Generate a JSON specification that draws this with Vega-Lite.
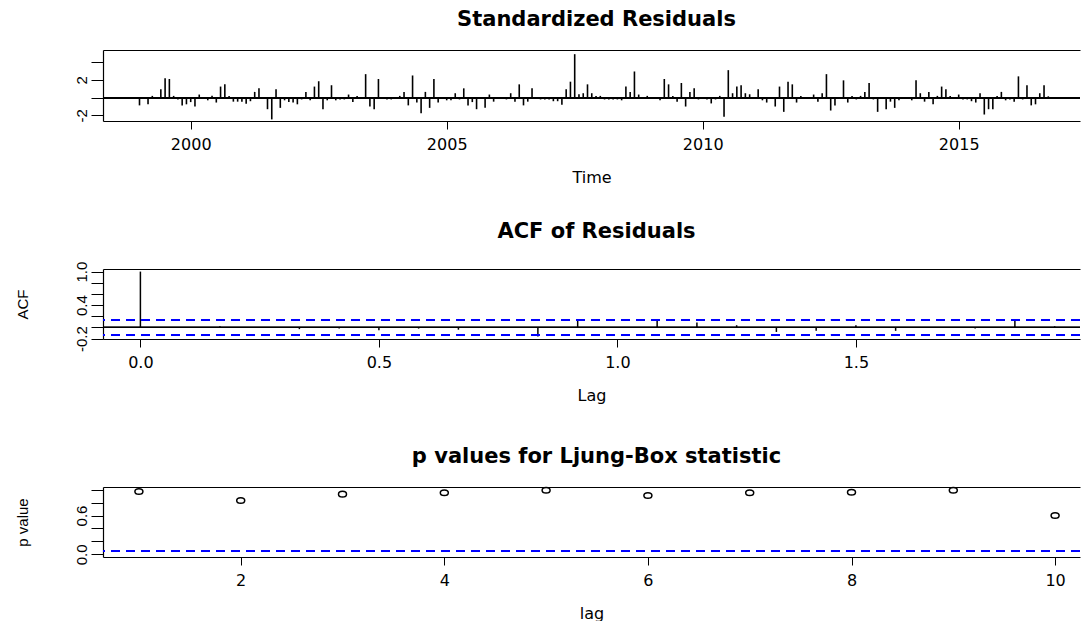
{
  "$schema": "https://vega.github.io/schema/vega-lite/v6.json",
  "padding": {"left": 15, "top": 9, "right": 0, "bottom": 0},
  "bounds": "flush",
  "spacing": 148,
  "config": {
    "font": "Liberation Sans",
    "view": {"stroke": null},
    "axis": {"grid": false, "domainColor": "black", "domainWidth": 1.2, "tickColor": "black", "tickWidth": 1, "labelColor": "black", "titleColor": "black", "labelFont": "Liberation Sans", "titleFont": "Liberation Sans", "labelFontSize": 15, "titleFontSize": 15, "titleFontWeight": "normal", "labelOverlap": false, "tickCount": 20},
    "axisX": {"tickSize": 8, "labelPadding": 7, "titlePadding": 17, "labelFlush": false, "labelFont": "DejaVu Sans", "titleFont": "DejaVu Sans", "labelFontSize": 16, "titleFontSize": 16},
    "axisY": {"tickSize": 12, "labelPadding": 2, "labelAngle": 270, "labelAlign": "center", "labelBaseline": "bottom", "titlePadding": 43.5},
    "title": {"fontSize": 21, "fontWeight": "bold", "color": "black", "font": "DejaVu Sans", "anchor": "middle"}
  },
  "datasets": {
    "resid": [
      {"t":1999.0,"r":-0.87},{"t":1999.0833,"r":0},{"t":1999.1667,"r":-0.75},{"t":1999.25,"r":0.2},{"t":1999.3333,"r":0},{"t":1999.4167,"r":0.95},{"t":1999.5,"r":2.2},{"t":1999.5833,"r":2.1},{"t":1999.6667,"r":0.2},{"t":1999.75,"r":-0.2},{"t":1999.8333,"r":-0.87},{"t":1999.9167,"r":-0.75},
      {"t":2000.0,"r":-0.5},{"t":2000.0833,"r":-1.0},{"t":2000.1667,"r":0.35},{"t":2000.25,"r":0},{"t":2000.3333,"r":-0.3},{"t":2000.4167,"r":0.22},{"t":2000.5,"r":-0.55},{"t":2000.5833,"r":1.25},{"t":2000.6667,"r":1.5},{"t":2000.75,"r":0.2},{"t":2000.8333,"r":-0.45},{"t":2000.9167,"r":-0.45},
      {"t":2001.0,"r":-0.45},{"t":2001.0833,"r":-0.7},{"t":2001.1667,"r":-0.4},{"t":2001.25,"r":0.65},{"t":2001.3333,"r":1.05},{"t":2001.4167,"r":0},{"t":2001.5,"r":-1.3},{"t":2001.5833,"r":-2.45},{"t":2001.6667,"r":0.95},{"t":2001.75,"r":-1.15},{"t":2001.8333,"r":-0.3},{"t":2001.9167,"r":-0.5},
      {"t":2002.0,"r":-0.55},{"t":2002.0833,"r":-0.75},{"t":2002.1667,"r":-0.2},{"t":2002.25,"r":0.65},{"t":2002.3333,"r":-0.3},{"t":2002.4167,"r":1.25},{"t":2002.5,"r":1.85},{"t":2002.5833,"r":-1.3},{"t":2002.6667,"r":-0.3},{"t":2002.75,"r":1.4},{"t":2002.8333,"r":-0.3},{"t":2002.9167,"r":-0.2},
      {"t":2003.0,"r":-0.2},{"t":2003.0833,"r":0.35},{"t":2003.1667,"r":-0.5},{"t":2003.25,"r":0.2},{"t":2003.3333,"r":0},{"t":2003.4167,"r":2.65},{"t":2003.5,"r":-1.0},{"t":2003.5833,"r":-1.3},{"t":2003.6667,"r":2.1},{"t":2003.75,"r":0},{"t":2003.8333,"r":-0.2},{"t":2003.9167,"r":-0.2},
      {"t":2004.0,"r":0},{"t":2004.0833,"r":0.2},{"t":2004.1667,"r":0.65},{"t":2004.25,"r":-0.87},{"t":2004.3333,"r":2.5},{"t":2004.4167,"r":-0.55},{"t":2004.5,"r":-1.75},{"t":2004.5833,"r":0.65},{"t":2004.6667,"r":-1.15},{"t":2004.75,"r":2.1},{"t":2004.8333,"r":-0.55},{"t":2004.9167,"r":0},
      {"t":2005.0,"r":-0.3},{"t":2005.0833,"r":-0.3},{"t":2005.1667,"r":0.5},{"t":2005.25,"r":-0.2},{"t":2005.3333,"r":1.05},{"t":2005.4167,"r":-0.87},{"t":2005.5,"r":-0.5},{"t":2005.5833,"r":-1.3},{"t":2005.6667,"r":0},{"t":2005.75,"r":-1.15},{"t":2005.8333,"r":0.35},{"t":2005.9167,"r":-0.45},
      {"t":2006.0,"r":-0.1},{"t":2006.0833,"r":0},{"t":2006.1667,"r":-0.2},{"t":2006.25,"r":0.5},{"t":2006.3333,"r":-0.45},{"t":2006.4167,"r":1.5},{"t":2006.5,"r":-0.87},{"t":2006.5833,"r":-0.45},{"t":2006.6667,"r":1.05},{"t":2006.75,"r":0},{"t":2006.8333,"r":-0.2},{"t":2006.9167,"r":-0.2},
      {"t":2007.0,"r":-0.2},{"t":2007.0833,"r":-0.4},{"t":2007.1667,"r":-0.4},{"t":2007.25,"r":-0.8},{"t":2007.3333,"r":0.95},{"t":2007.4167,"r":1.8},{"t":2007.5,"r":4.9},{"t":2007.5833,"r":0.38},{"t":2007.6667,"r":0.5},{"t":2007.75,"r":1.5},{"t":2007.8333,"r":0.5},{"t":2007.9167,"r":0.2},
      {"t":2008.0,"r":0.2},{"t":2008.0833,"r":-0.2},{"t":2008.1667,"r":-0.2},{"t":2008.25,"r":-0.2},{"t":2008.3333,"r":-0.2},{"t":2008.4167,"r":-0.3},{"t":2008.5,"r":1.25},{"t":2008.5833,"r":0.65},{"t":2008.6667,"r":2.95},{"t":2008.75,"r":0.35},{"t":2008.8333,"r":0},{"t":2008.9167,"r":0.2},
      {"t":2009.0,"r":0},{"t":2009.0833,"r":0},{"t":2009.1667,"r":-0.3},{"t":2009.25,"r":2.1},{"t":2009.3333,"r":1.5},{"t":2009.4167,"r":0.2},{"t":2009.5,"r":-0.45},{"t":2009.5833,"r":1.65},{"t":2009.6667,"r":-1.0},{"t":2009.75,"r":0.65},{"t":2009.8333,"r":1.05},{"t":2009.9167,"r":-0.2},
      {"t":2010.0,"r":0},{"t":2010.0833,"r":-0.2},{"t":2010.1667,"r":-0.65},{"t":2010.25,"r":-0.2},{"t":2010.3333,"r":0.2},{"t":2010.4167,"r":-2.15},{"t":2010.5,"r":3.1},{"t":2010.5833,"r":0.5},{"t":2010.6667,"r":1.25},{"t":2010.75,"r":1.4},{"t":2010.8333,"r":0.5},{"t":2010.9167,"r":0.38},
      {"t":2011.0,"r":0},{"t":2011.0833,"r":0.95},{"t":2011.1667,"r":-0.3},{"t":2011.25,"r":-0.55},{"t":2011.3333,"r":0},{"t":2011.4167,"r":-1.0},{"t":2011.5,"r":1.25},{"t":2011.5833,"r":-1.6},{"t":2011.6667,"r":1.8},{"t":2011.75,"r":1.5},{"t":2011.8333,"r":-0.55},{"t":2011.9167,"r":0.2},
      {"t":2012.0,"r":0},{"t":2012.0833,"r":0},{"t":2012.1667,"r":0.35},{"t":2012.25,"r":-0.45},{"t":2012.3333,"r":0.5},{"t":2012.4167,"r":2.65},{"t":2012.5,"r":-1.45},{"t":2012.5833,"r":-0.87},{"t":2012.6667,"r":0},{"t":2012.75,"r":1.95},{"t":2012.8333,"r":-0.55},{"t":2012.9167,"r":0.2},
      {"t":2013.0,"r":-0.2},{"t":2013.0833,"r":0.2},{"t":2013.1667,"r":0.65},{"t":2013.25,"r":1.65},{"t":2013.3333,"r":-0.2},{"t":2013.4167,"r":-1.6},{"t":2013.5,"r":0},{"t":2013.5833,"r":-1.3},{"t":2013.6667,"r":-0.45},{"t":2013.75,"r":-1.15},{"t":2013.8333,"r":-0.3},{"t":2013.9167,"r":0},
      {"t":2014.0,"r":0},{"t":2014.0833,"r":-0.3},{"t":2014.1667,"r":1.95},{"t":2014.25,"r":0.5},{"t":2014.3333,"r":-0.45},{"t":2014.4167,"r":0.65},{"t":2014.5,"r":-0.75},{"t":2014.5833,"r":0.2},{"t":2014.6667,"r":1.25},{"t":2014.75,"r":0.95},{"t":2014.8333,"r":0.2},{"t":2014.9167,"r":0},
      {"t":2015.0,"r":0.35},{"t":2015.0833,"r":-0.2},{"t":2015.1667,"r":-0.2},{"t":2015.25,"r":-0.4},{"t":2015.3333,"r":-0.55},{"t":2015.4167,"r":0.5},{"t":2015.5,"r":-1.9},{"t":2015.5833,"r":-1.3},{"t":2015.6667,"r":-1.3},{"t":2015.75,"r":0.2},{"t":2015.8333,"r":0.65},{"t":2015.9167,"r":-0.3},
      {"t":2016.0,"r":-0.2},{"t":2016.0833,"r":-0.45},{"t":2016.1667,"r":2.4},{"t":2016.25,"r":-0.2},{"t":2016.3333,"r":1.4},{"t":2016.4167,"r":-0.87},{"t":2016.5,"r":-0.75},{"t":2016.5833,"r":0.5},{"t":2016.6667,"r":1.4},{"t":2016.75,"r":0.15}
    ],
    "acf": [
      {"lag":0,"acf":1.0},{"lag":0.0833,"acf":0.0},{"lag":0.1667,"acf":0.02},{"lag":0.25,"acf":0.0},{"lag":0.3333,"acf":-0.03},{"lag":0.4167,"acf":-0.02},{"lag":0.5,"acf":-0.05},{"lag":0.5833,"acf":-0.02},{"lag":0.6667,"acf":-0.04},{"lag":0.75,"acf":0.0},{"lag":0.8333,"acf":-0.16},{"lag":0.9167,"acf":0.12},
      {"lag":1.0,"acf":0.0},{"lag":1.0833,"acf":0.12},{"lag":1.1667,"acf":0.09},{"lag":1.25,"acf":0.04},{"lag":1.3333,"acf":-0.08},{"lag":1.4167,"acf":-0.06},{"lag":1.5,"acf":0.04},{"lag":1.5833,"acf":-0.06},{"lag":1.6667,"acf":0.0},{"lag":1.75,"acf":-0.02},{"lag":1.8333,"acf":0.12},{"lag":1.9167,"acf":0.02}
    ],
    "pv": [
      {"lag":1,"p":0.97},{"lag":2,"p":0.83},{"lag":3,"p":0.93},{"lag":4,"p":0.95},{"lag":5,"p":0.99},{"lag":6,"p":0.91},{"lag":7,"p":0.95},{"lag":8,"p":0.96},{"lag":9,"p":0.99},{"lag":10,"p":0.6}
    ]
  },
  "vconcat": [
    {
      "width": 977, "height": 71,
      "title": {"text": "Standardized Residuals", "offset": 20, "dx": 5},
      "data": {"name": "resid"},
      "resolve": {"axis": {"x": "independent"}},
      "layer": [
        {"mark": {"type": "rule", "color": "black", "strokeWidth": 1.6},
         "encoding": {
           "x": {"field": "t", "type": "quantitative", "scale": {"domain": [1998.2871, 2017.3691], "nice": false, "zero": false}, "axis": {"orient": "bottom", "values": [2000, 2005, 2010, 2015], "format": "d", "title": "Time"}},
           "y": {"field": "r", "type": "quantitative", "scale": {"domain": [-2.63, 5.37], "nice": false, "zero": false}, "axis": {"values": [-2, 0, 2, 4], "tickCount": 20, "labelExpr": "abs(datum.value - 2) < 0.001 ? '2' : abs(datum.value + 2) < 0.001 ? '-2' : ''", "title": null}},
           "y2": {"datum": 0}
         }},
        {"mark": {"type": "rule", "color": "black", "strokeWidth": 1}, "encoding": {"y": {"datum": 0}}},
        {"mark": {"type": "rule", "opacity": 0},
         "encoding": {"x": {"datum": 2000, "type": "quantitative", "axis": {"orient": "top", "labels": false, "ticks": false, "title": null, "domain": true}}}}
      ]
    },
    {
      "width": 977, "height": 70,
      "title": {"text": "ACF of Residuals", "offset": 19, "dx": 5},
      "data": {"name": "acf"},
      "resolve": {"axis": {"x": "independent"}},
      "layer": [
        {"mark": {"type": "rule", "color": "black", "strokeWidth": 1.5},
         "encoding": {
           "x": {"field": "lag", "type": "quantitative", "scale": {"domain": [-0.0784, 1.9698], "nice": false, "zero": false}, "axis": {"orient": "bottom", "values": [0, 0.5, 1, 1.5], "format": ".1f", "title": "Lag"}},
           "y": {"field": "acf", "type": "quantitative", "scale": {"domain": [-0.2064, 1.0464], "nice": false, "zero": false}, "axis": {"values": [-0.2, 0, 0.2, 0.4, 0.6, 0.8, 1.0], "tickCount": 20, "labelExpr": "abs(datum.value - 1) < 0.001 ? '1.0' : abs(datum.value - 0.4) < 0.001 ? '0.4' : abs(datum.value + 0.2) < 0.001 ? '-0.2' : ''", "title": "ACF"}},
           "y2": {"datum": 0}
         }},
        {"mark": {"type": "rule", "color": "black", "strokeWidth": 1}, "encoding": {"y": {"datum": 0}}},
        {"mark": {"type": "rule", "color": "#0000FF", "strokeWidth": 1, "strokeDash": [9, 6]}, "encoding": {"y": {"datum": 0.134}}},
        {"mark": {"type": "rule", "color": "#0000FF", "strokeWidth": 1, "strokeDash": [9, 6]}, "encoding": {"y": {"datum": -0.134}}},
        {"mark": {"type": "rule", "opacity": 0},
         "encoding": {"x": {"datum": 0, "type": "quantitative", "axis": {"orient": "top", "labels": false, "ticks": false, "title": null, "domain": true}}}}
      ]
    },
    {
      "width": 977, "height": 70,
      "title": {"text": "p values for Ljung-Box statistic", "offset": 17, "dx": 5},
      "data": {"name": "pv"},
      "resolve": {"axis": {"x": "independent"}},
      "layer": [
        {"mark": {"type": "rule", "color": "#0000FF", "strokeWidth": 1, "strokeDash": [9, 6]}, "encoding": {"y": {"datum": 0.05}}},
        {"mark": {"type": "point", "shape": "M -1 0 A 1 0.69 0 1 0 1 0 A 1 0.69 0 1 0 -1 0 Z", "filled": false, "color": "black", "strokeWidth": 1.5, "size": 64, "opacity": 1},
         "encoding": {
           "x": {"field": "lag", "type": "quantitative", "scale": {"domain": [0.6473, 10.2446], "nice": false, "zero": false}, "axis": {"orient": "bottom", "values": [2, 4, 6, 8, 10], "format": "d", "title": "lag"}},
           "y": {"field": "p", "type": "quantitative", "scale": {"domain": [-0.04, 1.04], "nice": false, "zero": false}, "axis": {"values": [0, 0.2, 0.4, 0.6, 0.8, 1.0], "tickCount": 20, "labelExpr": "abs(datum.value) < 0.001 ? '0.0' : abs(datum.value - 0.6) < 0.001 ? '0.6' : ''", "title": "p value"}}
         }},
        {"mark": {"type": "rule", "opacity": 0},
         "encoding": {"x": {"datum": 2, "type": "quantitative", "axis": {"orient": "top", "labels": false, "ticks": false, "title": null, "domain": true}}}}
      ]
    }
  ]
}
